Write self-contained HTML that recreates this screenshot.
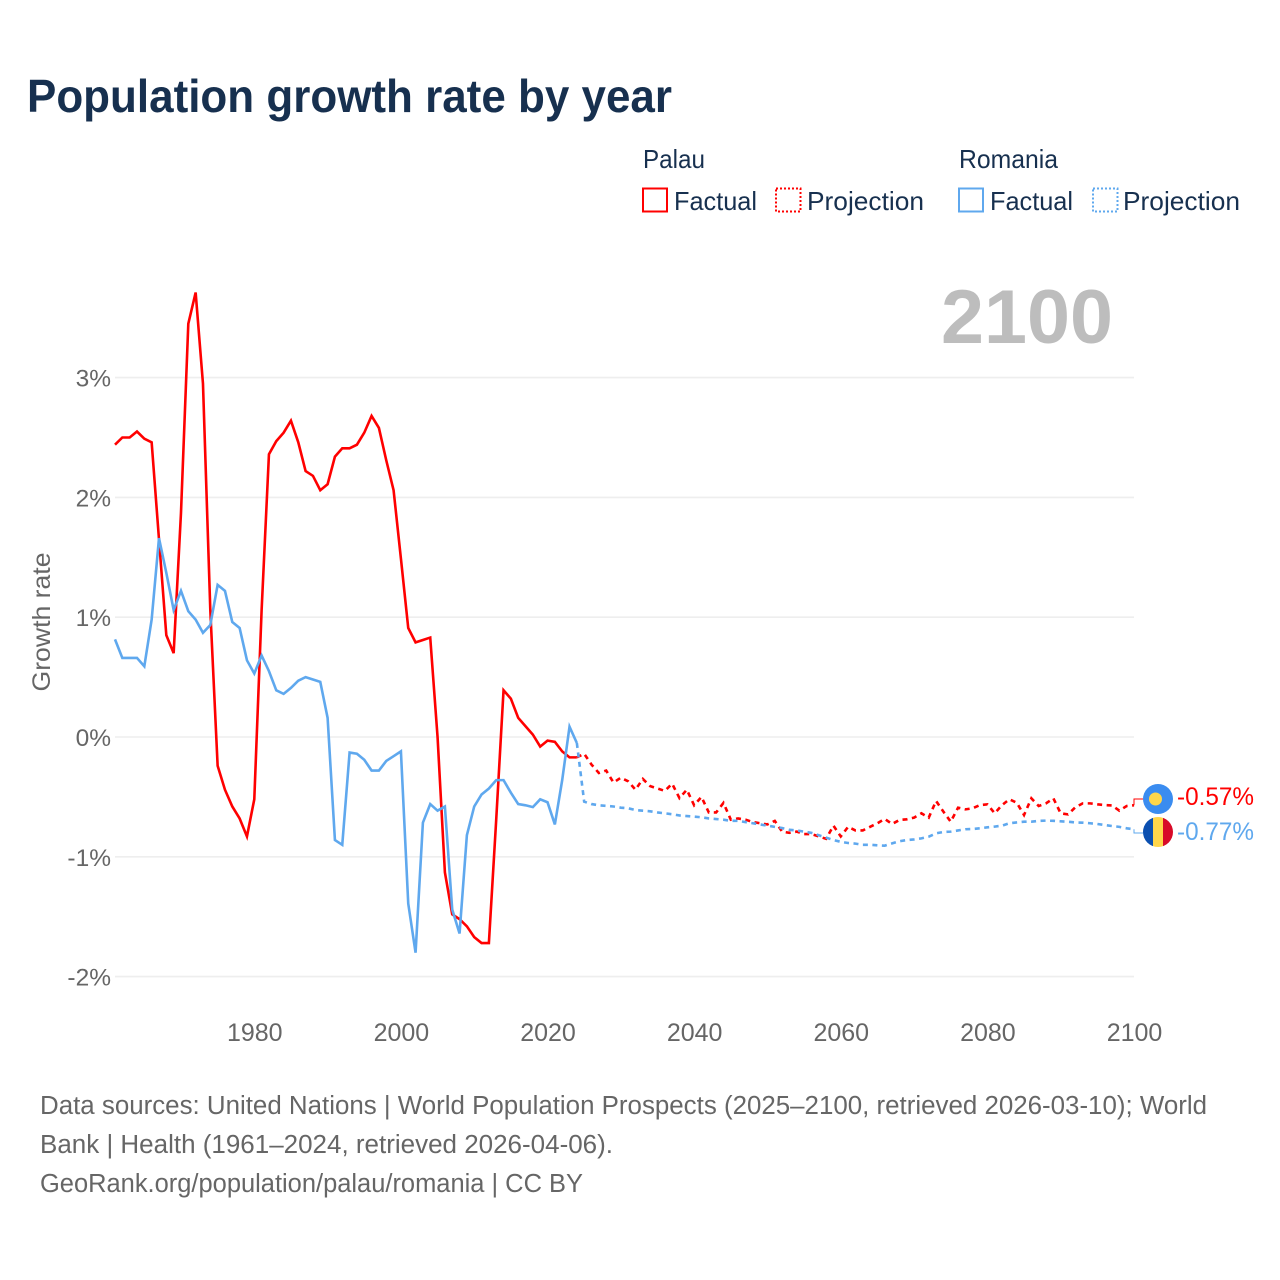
<!DOCTYPE html>
<html lang="en">
<head>
<meta charset="utf-8">
<title>Population growth rate by year</title>
<style>
  html, body { margin: 0; padding: 0; background: #ffffff; }
  svg { display: block; font-family: "Liberation Sans", sans-serif; }
</style>
</head>
<body>
<svg id="chart" width="1280" height="1280" viewBox="0 0 1280 1280" xmlns="http://www.w3.org/2000/svg">
  <rect x="0" y="0" width="1280" height="1280" fill="#ffffff"/>
  <text x="27" y="112" font-size="46" font-weight="700" fill="#17304f" textLength="645" lengthAdjust="spacingAndGlyphs">Population growth rate by year</text>

  <g font-size="26" fill="#17304f">
    <text x="643" y="168" textLength="62" lengthAdjust="spacingAndGlyphs">Palau</text>
    <text x="959" y="168" textLength="99" lengthAdjust="spacingAndGlyphs">Romania</text>
    <g>
      <rect x="643" y="188.500" width="24" height="23" fill="none" stroke="#ff0000" stroke-width="2"/>
      <text x="674" y="210" textLength="83" lengthAdjust="spacingAndGlyphs">Factual</text>
    </g>
    <g>
      <rect x="776" y="188.500" width="24.500" height="23" fill="none" stroke="#ff0000" stroke-width="2" stroke-dasharray="2 2"/>
      <text x="807" y="210" textLength="117" lengthAdjust="spacingAndGlyphs">Projection</text>
    </g>
    <g>
      <rect x="959" y="188.500" width="24" height="23" fill="none" stroke="#5fa8ee" stroke-width="2"/>
      <text x="990" y="210" textLength="83" lengthAdjust="spacingAndGlyphs">Factual</text>
    </g>
    <g>
      <rect x="1093" y="188.500" width="24.500" height="23" fill="none" stroke="#5fa8ee" stroke-width="2" stroke-dasharray="2 2"/>
      <text x="1123" y="210" textLength="117" lengthAdjust="spacingAndGlyphs">Projection</text>
    </g>
  </g>

  <text x="1113" y="343" text-anchor="end" font-size="76" font-weight="700" fill="#bdbdbd" textLength="172" lengthAdjust="spacingAndGlyphs">2100</text>

  <g id="grid"></g>
  <g id="y-ticks" font-size="24.500" fill="#666666"></g>
  <g id="x-ticks" font-size="25" fill="#666666"></g>
  <text transform="translate(50,622) rotate(-90)" text-anchor="middle" font-size="25" fill="#666666" textLength="139" lengthAdjust="spacingAndGlyphs">Growth rate</text>
  <g id="series"></g>

  <defs>
    <clipPath id="romania-flag-clip"><circle cx="1158" cy="832" r="15"/></clipPath>
  </defs>
  <g id="flag-palau">
    <circle cx="1158" cy="799" r="15" fill="#3a8cf0"/>
    <circle cx="1155.500" cy="799" r="6.500" fill="#ffd64a"/>
  </g>
  <g id="flag-romania" clip-path="url(#romania-flag-clip)">
    <rect x="1143" y="817" width="10" height="30" fill="#0a4fb0"/>
    <rect x="1153" y="817" width="10" height="30" fill="#ffd64a"/>
    <rect x="1163" y="817" width="10" height="30" fill="#d80a28"/>
  </g>
  <text id="end-label-palau" x="1177" y="805" font-size="25" fill="#ff0000" textLength="77" lengthAdjust="spacingAndGlyphs"></text>
  <text id="end-label-romania" x="1177" y="840" font-size="25" fill="#5fa8ee" textLength="77" lengthAdjust="spacingAndGlyphs"></text>

  <g font-size="25.500" fill="#666666">
    <text x="40" y="1114" textLength="1167" lengthAdjust="spacingAndGlyphs">Data sources: United Nations | World Population Prospects (2025–2100, retrieved 2026-03-10); World</text>
    <text x="40" y="1153" textLength="573" lengthAdjust="spacingAndGlyphs">Bank | Health (1961–2024, retrieved 2026-04-06).</text>
    <text x="40" y="1192" textLength="543" lengthAdjust="spacingAndGlyphs">GeoRank.org/population/palau/romania | CC BY</text>
  </g>
</svg>

<script>
const factualStartYear = 1961;
const projectionStartYear = 2024;
const yTickValues = [3, 2, 1, 0, -1, -2];
const yTickLabels = ["3%", "2%", "1%", "0%", "-1%", "-2%"];
const xTickValues = [1980, 2000, 2020, 2040, 2060, 2080, 2100];
const xTickLabels = ["1980", "2000", "2020", "2040", "2060", "2080", "2100"];

const palauFactual = [
  2.44, 2.50, 2.50, 2.55, 2.49, 2.46, 1.65, 0.85, 0.70, 1.87,
  3.45, 3.71, 2.95, 1.06, -0.24, -0.44, -0.58, -0.68, -0.83, -0.52,
  1.06, 2.36, 2.47, 2.54, 2.64, 2.46, 2.22, 2.18, 2.06, 2.11,
  2.34, 2.41, 2.41, 2.44, 2.54, 2.68, 2.58, 2.31, 2.06, 1.49,
  0.91, 0.79, 0.81, 0.83, 0.00, -1.13, -1.48, -1.52, -1.58, -1.67,
  -1.72, -1.72, -0.69, 0.39, 0.32, 0.16, 0.09, 0.02, -0.08, -0.03,
  -0.04, -0.12, -0.17, -0.17
];
const palauProjection = [
  -0.17, -0.14, -0.23, -0.30, -0.28, -0.38, -0.34, -0.37, -0.44, -0.35,
  -0.41, -0.43, -0.45, -0.39, -0.51, -0.44, -0.57, -0.50, -0.63, -0.63,
  -0.55, -0.69, -0.68, -0.69, -0.71, -0.72, -0.73, -0.70, -0.79, -0.80,
  -0.79, -0.81, -0.81, -0.83, -0.85, -0.74, -0.83, -0.75, -0.78, -0.78,
  -0.75, -0.72, -0.684, -0.726, -0.693, -0.687, -0.673, -0.637, -0.673, -0.534,
  -0.623, -0.707, -0.59, -0.604, -0.595, -0.568, -0.562, -0.637, -0.568, -0.52,
  -0.548, -0.651, -0.512, -0.576, -0.554, -0.512, -0.637, -0.646, -0.587, -0.554,
  -0.554, -0.562, -0.568, -0.571, -0.615, -0.576, -0.57
];
const romaniaFactual = [
  0.815, 0.66, 0.66, 0.66, 0.59, 0.98, 1.66, 1.37, 1.06, 1.22,
  1.05, 0.98, 0.87, 0.935, 1.27, 1.22, 0.96, 0.91, 0.64, 0.53,
  0.68, 0.55, 0.39, 0.36, 0.41, 0.47, 0.50, 0.48, 0.46, 0.16,
  -0.86, -0.90, -0.13, -0.14, -0.19, -0.28, -0.28, -0.20, -0.16, -0.12,
  -1.39, -1.80, -0.715, -0.56, -0.615, -0.58, -1.44, -1.64, -0.82, -0.58,
  -0.48, -0.43, -0.36, -0.36, -0.465, -0.56, -0.57, -0.585, -0.52, -0.545,
  -0.73, -0.36, 0.086, -0.05
];
const romaniaProjection = [
  -0.05, -0.54, -0.56, -0.57, -0.575, -0.58, -0.59, -0.595, -0.61, -0.615,
  -0.62, -0.63, -0.637, -0.645, -0.655, -0.66, -0.665, -0.67, -0.68, -0.685,
  -0.69, -0.70, -0.70, -0.71, -0.72, -0.73, -0.74, -0.75, -0.76, -0.775,
  -0.78, -0.79, -0.80, -0.82, -0.84, -0.86, -0.875, -0.885, -0.89, -0.90,
  -0.90, -0.904, -0.907, -0.888, -0.87, -0.86, -0.855, -0.846, -0.832, -0.804,
  -0.793, -0.79, -0.78, -0.77, -0.768, -0.762, -0.754, -0.748, -0.74, -0.72,
  -0.713, -0.707, -0.707, -0.70, -0.698, -0.70, -0.704, -0.707, -0.713, -0.715,
  -0.72, -0.726, -0.735, -0.743, -0.75, -0.762, -0.77
];

const SVG_NS = "http://www.w3.org/2000/svg";
const PLOT_LEFT = 115;
const PLOT_RIGHT = 1134;
const X_MIN = 1961;
const X_MAX = 2100;
const Y_ZERO = 737;
const Y_PER_UNIT = 119.8;
const RED = "#ff0000";
const BLUE = "#5fa8ee";

function xScale(year) {
  return PLOT_LEFT + (year - X_MIN) * (PLOT_RIGHT - PLOT_LEFT) / (X_MAX - X_MIN);
}
function yScale(value) {
  return Y_ZERO - value * Y_PER_UNIT;
}
function seriesPoints(values, startYear) {
  return values.map(function (v, i) {
    return xScale(startYear + i).toFixed(2) + "," + yScale(v).toFixed(2);
  }).join(" ");
}
function formatPercent(v) {
  return v.toFixed(2) + "%";
}

const gridGroup = document.getElementById("grid");
const yTickGroup = document.getElementById("y-ticks");
const xTickGroup = document.getElementById("x-ticks");
const seriesGroup = document.getElementById("series");

yTickValues.forEach(function (value, i) {
  const line = document.createElementNS(SVG_NS, "line");
  
  
  line.setAttribute("x1", PLOT_LEFT);
  line.setAttribute("x2", PLOT_RIGHT);
  line.setAttribute("y1", yScale(value));
  line.setAttribute("y2", yScale(value));
  line.setAttribute("stroke", "#eeeeee");
  line.setAttribute("stroke-width", "1.600");
  gridGroup.appendChild(line);

  const label = document.createElementNS(SVG_NS, "text");
  
  
  label.setAttribute("x", 111);
  label.setAttribute("y", yScale(value) + 9);
  label.setAttribute("text-anchor", "end");
  label.textContent = yTickLabels[i];
  yTickGroup.appendChild(label);
});

xTickValues.forEach(function (year, i) {
  const label = document.createElementNS(SVG_NS, "text");
  
  
  label.setAttribute("x", xScale(year) + 0.500);
  label.setAttribute("y", 1041);
  label.setAttribute("text-anchor", "middle");
  label.textContent = xTickLabels[i];
  xTickGroup.appendChild(label);
});

function addSeriesLine(values, startYear, color, dashed, name) {
  const line = document.createElementNS(SVG_NS, "polyline");
  
  
  line.setAttribute("points", seriesPoints(values, startYear));
  line.setAttribute("fill", "none");
  line.setAttribute("stroke", color);
  line.setAttribute("stroke-width", "2.600");
  line.setAttribute("stroke-linejoin", "miter");
  if (dashed) {
    line.setAttribute("stroke-dasharray", "5 4.500");
  }
  seriesGroup.appendChild(line);
}

addSeriesLine(palauFactual, factualStartYear, RED, false, "palau-factual-line");
addSeriesLine(palauProjection, projectionStartYear, RED, true, "palau-projection-line");
addSeriesLine(romaniaFactual, factualStartYear, BLUE, false, "romania-factual-line");
addSeriesLine(romaniaProjection, projectionStartYear, BLUE, true, "romania-projection-line");

function addConnector(lastValue, labelY, color, name) {
  const path = document.createElementNS(SVG_NS, "polyline");
  
  
  path.setAttribute("points", PLOT_RIGHT + "," + yScale(lastValue).toFixed(2) + " " + PLOT_RIGHT + "," + labelY + " 1143," + labelY);
  path.setAttribute("fill", "none");
  path.setAttribute("stroke", color);
  path.setAttribute("stroke-width", "1");
  seriesGroup.appendChild(path);
}

const palauLast = palauProjection[palauProjection.length - 1];
const romaniaLast = romaniaProjection[romaniaProjection.length - 1];
addConnector(palauLast, 799, RED, "palau-end-connector");
addConnector(romaniaLast, 833, BLUE, "romania-end-connector");
document.getElementById("end-label-palau").textContent = formatPercent(palauLast);
document.getElementById("end-label-romania").textContent = formatPercent(romaniaLast);
</script>
</body>
</html>
